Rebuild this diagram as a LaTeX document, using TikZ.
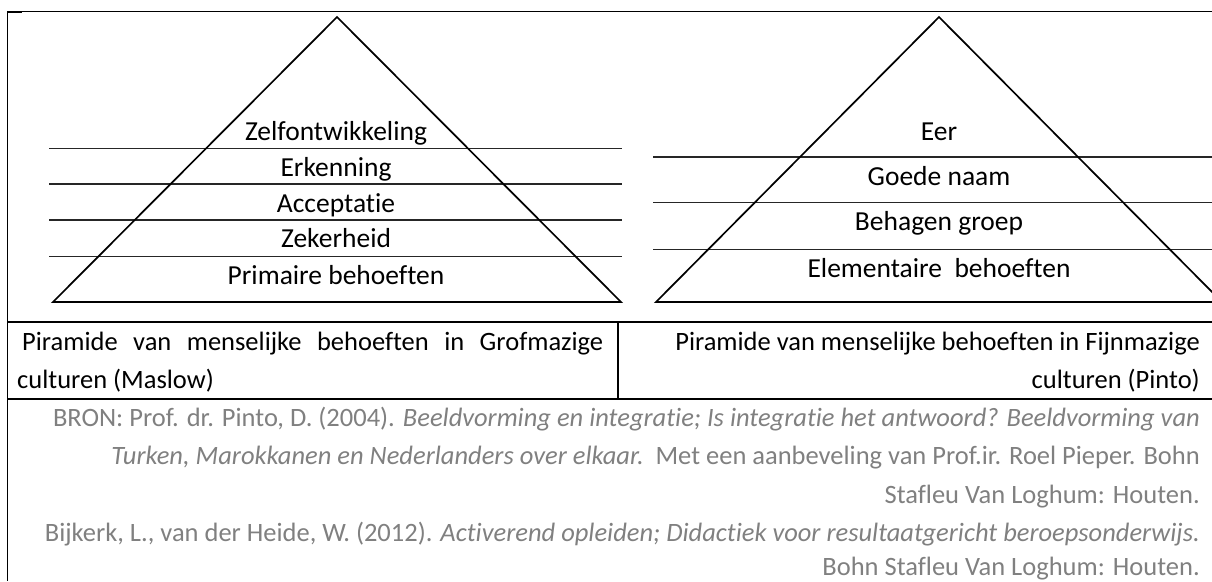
\documentclass[tikz,border=0pt]{standalone}
\usepackage{fontspec}
\setmainfont{Carlito}[Ligatures=NoCommon]
\definecolor{citegray}{RGB}{128,128,128}
\begin{document}
\begin{tikzpicture}[x=1pt,y=-1pt,
  lab/.style={font=\fontsize{27.5}{33}\selectfont, inner sep=0pt, anchor=base},
  cell/.style={font=\fontsize{26.5}{32}\selectfont, inner sep=0pt},
  src/.style={cell, text=citegray, anchor=base east},
  frame/.style={line width=1.7pt},
  rule/.style={line width=1.3pt},
  tri/.style={line width=1.7pt, line join=miter},
  tier/.style={line width=1.1pt, draw=black!85}]
\useasboundingbox (0,0) rectangle (1212,581);
\begin{scope}
\clip (0,0) rectangle (1212,581);
% outer frame
\draw[rule] (7,11.7) -- (1212,11.7);
\draw[line width=2.4pt] (7,12) -- (22,12);
\draw[frame] (7.5,11) -- (7.5,581);
% left pyramid
\draw[tier] (49,148.3) -- (622,148.3);
\draw[tier] (49,184) -- (622,184);
\draw[tier] (49,220) -- (622,220);
\draw[tier] (49,256.7) -- (622,256.7);
\draw[tri] (337,17) -- (621,302) -- (53,302) -- cycle;
% right pyramid
\draw[tier] (653,157) -- (1212,157);
\draw[tier] (653,202.7) -- (1212,202.7);
\draw[tier] (653,249.7) -- (1212,249.7);
\draw[tri] (1222,302) -- (656,302) -- (939,17) -- (1222,302);
% table
\draw[frame] (7,322) -- (1212,322);
\draw[frame] (7,399) -- (1212,399);
\draw[rule] (618,322) -- (618,399);
\end{scope}
% left pyramid labels
\node[lab] (l1) at (336,140) {Zelfontwikkeling};
\node[lab] (l2) at (336,176.5) {Erkenning};
\node[lab] (l3) at (336,212) {Acceptatie};
\node[lab] (l4) at (336,247.5) {Zekerheid};
\node[lab] (l5) at (336,284) {Primaire behoeften};
% right pyramid labels
\node[lab] (r1) at (939,140) {Eer};
\node[lab] (r2) at (939,185) {Goede naam};
\node[lab] (r3) at (939,230) {Behagen groep};
\node[lab] (r4) at (939,277) {Elementaire\ \ behoeften};
% table cells
\node[cell, anchor=base west] (c1) at (22,350) {\makebox[581pt][s]{Piramide van menselijke behoeften in Grofmazige}};
\node[cell, anchor=base west] (c2) at (17,388) {culturen (Maslow)};
\node[cell, anchor=base east] (c3) at (1200,350) {Piramide van menselijke behoeften in Fijnmazige};
\node[cell, anchor=base east] (c4) at (1200,388) {culturen (Pinto)};
% sources
\node[src] (s1) at (1200,426) {BRON: Prof. dr. Pinto, D. (2004). \textit{Beeldvorming en integratie; Is integratie het antwoord? Beeldvorming van}};
\node[src] (s2) at (1200,464.5) {\textit{Turken, Marokkanen en Nederlanders over elkaar.}\ \ Met een aanbeveling van Prof.ir. Roel Pieper. Bohn};
\node[src] (s3) at (1200,503) {Stafleu Van Loghum: Houten.};
\node[src] (s4) at (1200,541) {Bijkerk, L., van der Heide, W. (2012). \textit{Activerend opleiden; Didactiek voor resultaatgericht beroepsonderwijs.}};
\node[src] (s5) at (1200,575) {Bohn Stafleu Van Loghum: Houten.};
\end{tikzpicture}
\end{document}
